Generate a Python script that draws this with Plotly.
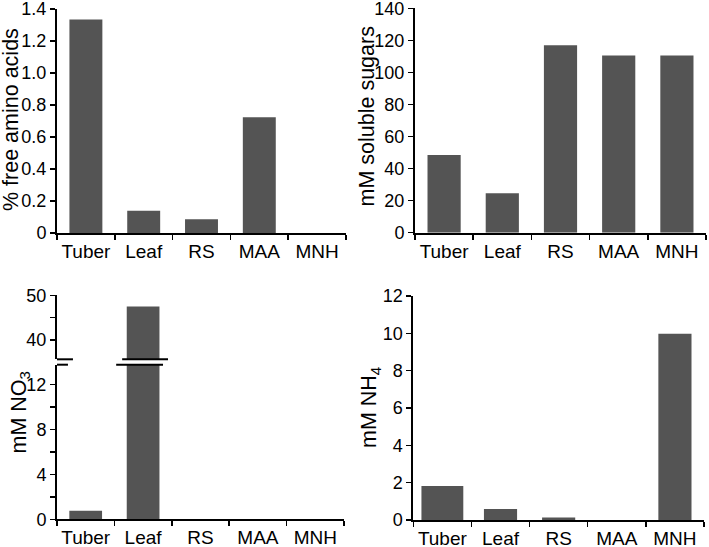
import plotly.graph_objects as go

# ---- data ----
categories = ["Tuber", "Leaf", "RS", "MAA", "MNH"]
amino_acids = [1.335, 0.139, 0.086, 0.723, 0.0]      # % free amino acids
soluble_sugars = [48.5, 24.6, 116.9, 110.6, 110.6]    # mM soluble sugars
nitrate = [0.76, 47.5, 0.0, 0.0, 0.0]                 # mM NO3
ammonium = [1.82, 0.59, 0.14, 0.0, 9.98]              # mM NH4

W, H = 709, 547
BAR = "rgb(84,84,84)"
FONT = "Liberation Sans, Arial, sans-serif"


def fx(p):
    return p / W


def fy(p):
    return 1 - p / H


def xdom(a, b):
    return [fx(a), fx(b)]


def ydom(bottom, top):
    return [fy(bottom), fy(top)]


axis_common = dict(
    showline=True, linecolor="black", linewidth=2,
    ticks="outside", ticklen=5, tickwidth=1.5, tickcolor="black",
    showgrid=False, zeroline=False, automargin=False,
    ticklabeloverflow="allow",
    tickfont=dict(family=FONT, size=18, color="black"),
)
xcommon = dict(axis_common, type="category", tickson="boundaries",
               range=[-0.5, 4.5], tickangle=0,
               tickfont=dict(family=FONT, size=19, color="black"))

bar_style = dict(marker_color=BAR, marker_line_width=0)

fig = go.Figure()
fig.add_trace(go.Bar(x=categories, y=amino_acids, xaxis="x", yaxis="y",
                     width=0.57, **bar_style))
fig.add_trace(go.Bar(x=categories, y=soluble_sugars, xaxis="x2", yaxis="y2",
                     width=0.57, **bar_style))
fig.add_trace(go.Bar(x=categories, y=nitrate, xaxis="x3", yaxis="y3",
                     width=0.57, **bar_style))
fig.add_trace(go.Bar(x=categories, y=nitrate, xaxis="x3", yaxis="y5",
                     width=0.57, **bar_style))
fig.add_trace(go.Bar(x=categories, y=ammonium, xaxis="x4", yaxis="y4",
                     width=[0.72, 0.57, 0.57, 0.57, 0.57], **bar_style))

lower3 = ydom(519.3, 364.7)
upper3 = ydom(359.3, 295.3)

fig.update_layout(
    template="none",
    width=W, height=H, margin=dict(l=0, r=0, t=0, b=0, autoexpand=False),
    paper_bgcolor="white", plot_bgcolor="white", showlegend=False,
    font=dict(family=FONT, color="black"),
    xaxis=dict(xcommon, domain=xdom(57, 346), anchor="y"),
    yaxis=dict(axis_common, domain=ydom(233, 9), anchor="x", range=[0, 1.4],
               tickvals=[0, 0.2, 0.4, 0.6, 0.8, 1.0, 1.2, 1.4],
               ticktext=["0", "0.2", "0.4", "0.6", "0.8", "1.0", "1.2", "1.4"]),
    xaxis2=dict(xcommon, domain=xdom(415, 706), anchor="y2"),
    yaxis2=dict(axis_common, domain=ydom(232.7, 8.3), anchor="x2",
                range=[0, 140], tickvals=[0, 20, 40, 60, 80, 100, 120, 140]),
    xaxis3=dict(xcommon, domain=xdom(57, 344), anchor="y3"),
    yaxis3=dict(axis_common, domain=lower3, anchor="x3", range=[0, 13.74],
                tickvals=[0, 4, 8, 12],
                minor=dict(tickvals=[2, 6, 10], ticks="outside", ticklen=5,
                           tickwidth=1.5, tickcolor="black")),
    yaxis5=dict(axis_common, domain=upper3, anchor="x3", range=[35.7, 50],
                tickvals=[40, 50],
                minor=dict(tickvals=[45], ticks="outside", ticklen=5,
                           tickwidth=1.5, tickcolor="black")),
    xaxis4=dict(xcommon, domain=xdom(413.3, 704), anchor="y4"),
    yaxis4=dict(axis_common, domain=ydom(520, 296), anchor="x4",
                range=[0, 12], tickvals=[0, 2, 4, 6, 8, 10, 12]),
)

title_font = dict(family=FONT, size=21.5, color="black")
titles = [
    ("% free amino acids", 11, 120),
    ("mM soluble sugars", 366.5, 117),
    ("mM NO<sub>3</sub>", 20, 412.5),
    ("mM NH<sub>4</sub>", 370.5, 407.5),
]
for text, px, py in titles:
    fig.add_annotation(text=text, x=fx(px), y=fy(py), xref="paper", yref="paper",
                       showarrow=False, textangle=-90, xanchor="center",
                       yanchor="middle", font=title_font)

# axis-break marks on the NO3 panel
breaks = [
    ((-0.656, -0.222), (-0.743, -0.309)),
    ((0.635, 1.434), (0.531, 1.347)),
]
for (u0, u1), (l0, l1) in breaks:
    fig.add_shape(type="line", xref="x3", yref="paper", x0=u0, x1=u1,
                  y0=upper3[0], y1=upper3[0], line=dict(color="black", width=2))
    fig.add_shape(type="line", xref="x3", yref="paper", x0=l0, x1=l1,
                  y0=lower3[1], y1=lower3[1], line=dict(color="black", width=2))

fig.write_html("out.html",
               config={"displayModeBar": False, "staticPlot": True},
               post_script="document.body.style.margin='0';"
                           "document.body.style.overflow='hidden';")
